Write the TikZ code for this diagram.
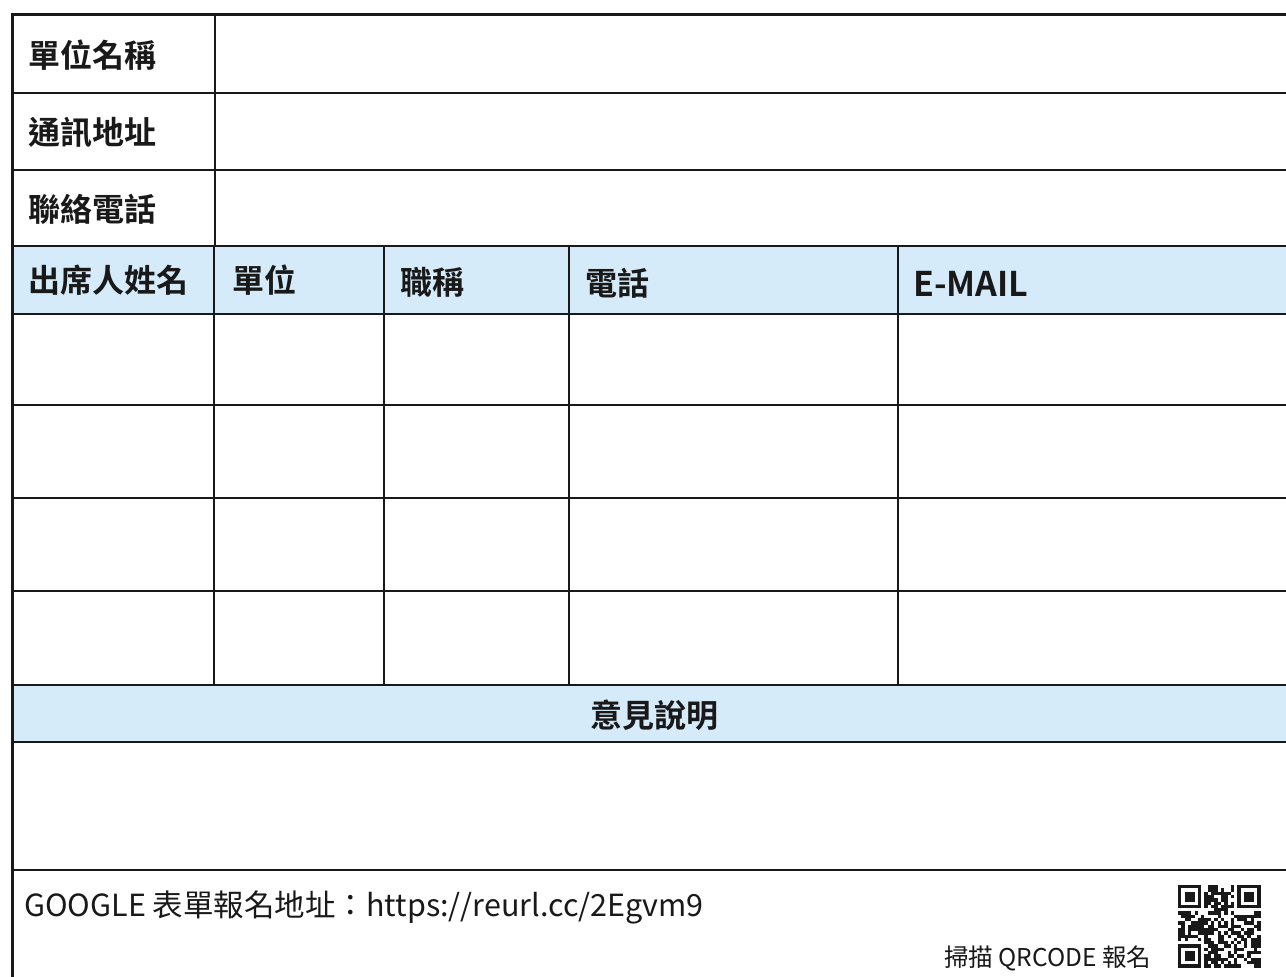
\documentclass[tikz,border=0pt]{standalone}
\usepackage{fontspec}
\setmainfont{Noto Sans CJK TC}[BoldFont={Noto Sans CJK TC Bold}]
\definecolor{hdr}{RGB}{214,235,250}
\definecolor{ink}{RGB}{25,25,25}
\begin{document}
\begin{tikzpicture}[x=1pt,y=-1pt,
  rule/.style={draw=ink,line width=2pt},
  frame/.style={draw=ink,line width=3pt},
  lab/.style={anchor=west,inner sep=0pt,text=ink,font=\fontsize{32}{32}\selectfont\bfseries},
  latin/.style={anchor=west,inner sep=0pt,text=ink,font=\fontsize{34}{34}\selectfont\bfseries},
  note/.style={anchor=west,inner sep=0pt,text=ink,font=\fontsize{30.5}{30.5}\selectfont},
  small/.style={anchor=west,inner sep=0pt,text=ink,font=\fontsize{24.5}{24.5}\selectfont}]
\useasboundingbox (0,0) rectangle (1286,977);
\fill[white] (0,0) rectangle (1286,977);
% blue bands
\fill[hdr] (12,246) rectangle (1286,314);
\fill[hdr] (12,685) rectangle (1286,742);
% horizontal rules
\draw[rule] (12,93) -- (1286,93);
\draw[rule] (12,170) -- (1286,170);
\draw[rule] (12,246) -- (1286,246);
\draw[rule] (12,314) -- (1286,314);
\draw[rule] (12,405) -- (1286,405);
\draw[rule] (12,498) -- (1286,498);
\draw[rule] (12,591) -- (1286,591);
\draw[rule] (12,685) -- (1286,685);
\draw[rule] (12,742) -- (1286,742);
\draw[rule] (12,870) -- (1286,870);
% vertical rules
\draw[rule] (215,14) -- (215,246);
\draw[rule] (214,246) -- (214,685);
\draw[rule] (384,246) -- (384,685);
\draw[rule] (569,246) -- (569,685);
\draw[rule] (898,246) -- (898,685);
% frame
\draw[frame] (12,977) -- (12,14) -- (1286,14);
% labels
\node[lab] (l1) at (28,55) {單位名稱};
\node[lab] (l2) at (28,132) {通訊地址};
\node[lab] (l3) at (28,209) {聯絡電話};
\node[lab] (h1) at (28,280) {出席人姓名};
\node[lab] (h2) at (232,280) {單位};
\node[lab] (h3) at (400,282) {職稱};
\node[lab] (h4) at (585,283) {電話};
\node[latin] (h5) at (913,284) {E-MAIL};
\node[lab,anchor=center] (op) at (654,715) {意見說明};
\node[note] (gf) at (24,907) {GOOGLE 表單報名地址：https://reurl.cc/2Egvm9};
\node[small] (scan) at (944,958) {掃描 QRCODE 報名};
% QR code
\coordinate (qr) at (1178,885);
\pgfmathsetseed{4711}
\foreach \i in {0,...,24}{\foreach \j in {0,...,24}{
  \pgfmathrandominteger{\r}{0}{9}
  \pgfmathtruncatemacro{\sk}{((\i<8) && (\j<8)) || ((\i>16) && (\j<8)) || ((\i<8) && (\j>16)) ? 1 : 0}
  \ifnum\r>3 \ifnum\sk=0 \fill[ink] ([shift={(\i*3.3,\j*3.3)}]qr) rectangle ++(3.3,3.3); \fi\fi
}}
\foreach \a/\b in {0/0,18/0,0/18}{
  \fill[ink] ([shift={(\a*3.3,\b*3.3)}]qr) rectangle ++(23.1,23.1);
  \fill[white] ([shift={(\a*3.3+3.3,\b*3.3+3.3)}]qr) rectangle ++(16.5,16.5);
  \fill[ink] ([shift={(\a*3.3+6.6,\b*3.3+6.6)}]qr) rectangle ++(9.9,9.9);
}
\end{tikzpicture}
\end{document}
